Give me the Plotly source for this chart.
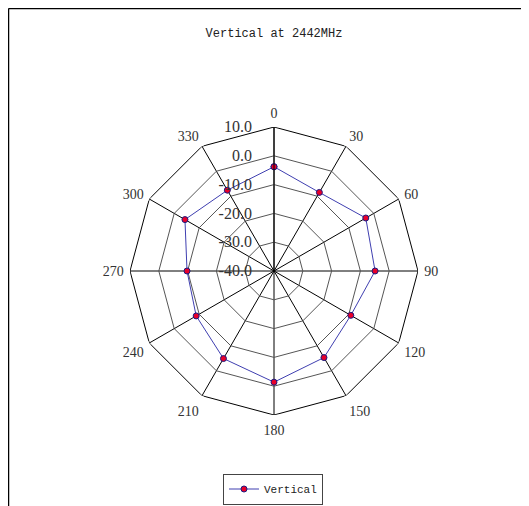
import plotly.graph_objects as go

angles = [0, 30, 60, 90, 120, 150, 180, 210, 240, 270, 300, 330]
vertical = [-3.8, -8.5, -3.2, -4.9, -9.2, -5.3, -1.4, -4.9, -8.8, -9.8, -4.3, -7.6]
radial_ticks = [-40, -30, -20, -10, 0, 10]
title_text = "Vertical at 2442MHz"
series_name = "Vertical"

# page body has an 8px margin; figure is placed at (8, 8)
W, H = 521, 498
cx, cy, R = 266, 263, 144

# radial labels are end-anchored near the axis; pad with no-break spaces so
# the visible text ends ~21px left of the axis like the Excel original
RFONT = 16
radial_text = [f"{v:.1f}" + "\u00a0" * 4 for v in radial_ticks]
ring_theta = angles + [360]

fig = go.Figure()
# polygon grid rings (Excel radar style)
for t in radial_ticks[1:]:
    fig.add_trace(go.Scatterpolar(
        r=[t] * len(ring_theta), theta=ring_theta, mode="lines",
        line=dict(color="black" if t == radial_ticks[-1] else "#555555", width=1),
        hoverinfo="skip", showlegend=False,
    ))

fig.add_trace(go.Scatterpolar(
    r=vertical + [vertical[0]],
    theta=ring_theta,
    mode="lines+markers",
    name=series_name,
    line=dict(color="#3f3fb0", width=1),
    marker=dict(color="#e8002a", size=6, line=dict(color="#1a1a80", width=1)),
))

fig.update_layout(
    width=W, height=H,
    margin=dict(l=0, r=0, t=0, b=0),
    paper_bgcolor="white",
    plot_bgcolor="white",
    title=dict(text=title_text, x=266 / W, xanchor="center", y=1 - 25 / H, yanchor="middle",
               font=dict(family="Liberation Mono", size=12, color="#222")),
    polar=dict(
        domain=dict(x=[(cx - R) / W, (cx + R) / W], y=[(H - cy - R) / H, (H - cy + R) / H]),
        bgcolor="white",
        radialaxis=dict(
            range=[-40, 10], tickmode="array", tickvals=radial_ticks, ticktext=radial_text,
            angle=90, tickangle=90, side="counterclockwise",
            showline=True, linecolor="black", linewidth=1,
            showgrid=False, ticks="",
            tickfont=dict(family="Liberation Serif", size=RFONT, color="#333"),
        ),
        angularaxis=dict(
            tickmode="array", tickvals=angles, ticktext=[str(a) for a in angles],
            rotation=90, direction="clockwise",
            showline=False,
            gridcolor="black", gridwidth=1,
            ticks="outside", ticklen=3, tickcolor="rgba(0,0,0,0)",
            tickfont=dict(family="Liberation Serif", size=14, color="#333"),
        ),
    ),
    showlegend=True,
    legend=dict(x=265 / W, xanchor="center", y=1 - 481 / H, yanchor="middle",
                orientation="h", bordercolor="#444", borderwidth=1,
                font=dict(family="Liberation Mono", size=11, color="#222")),
    shapes=[
        dict(type="line", xref="paper", yref="paper", x0=0.5 / W, x1=1, y0=1 - 0.5 / H, y1=1 - 0.5 / H,
             line=dict(color="black", width=1.5)),
        dict(type="line", xref="paper", yref="paper", x0=0.5 / W, x1=0.5 / W, y0=0, y1=1 - 0.5 / H,
             line=dict(color="black", width=1.5)),
    ],
)

fig.write_html("out.html")
